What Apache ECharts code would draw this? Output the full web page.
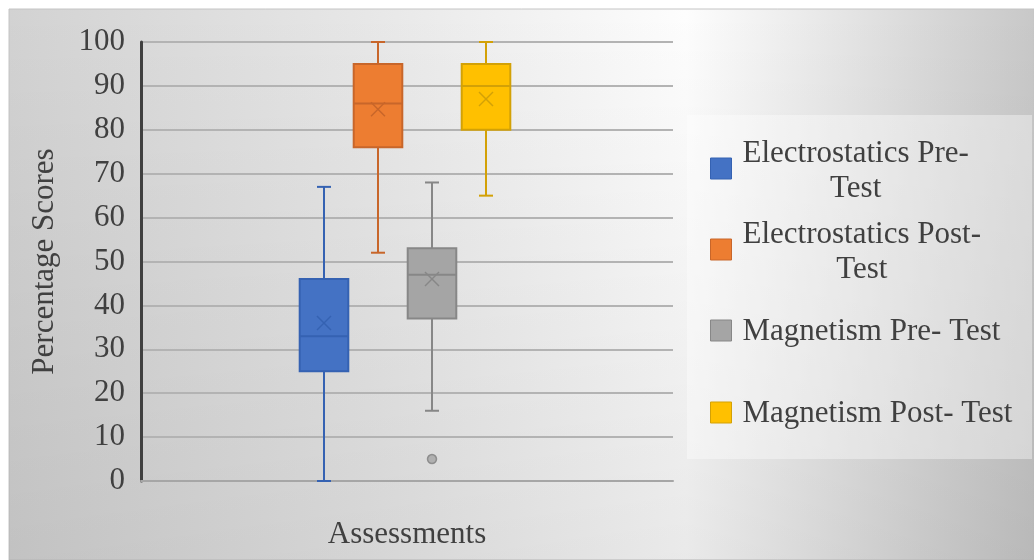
<!DOCTYPE html>
<html>
<head>
<meta charset="utf-8">
<script src="https://cdn.jsdelivr.net/npm/echarts@6/dist/echarts.min.js"></script>
<style>
  html, body { margin: 0; padding: 0; background: #ffffff; }
  #chart { width: 1034px; height: 560px; }
</style>
</head>
<body>
<div id="chart"></div>
<script>
// ---- data ----
var seriesNames = ['Electrostatics Pre-Test', 'Electrostatics Post-Test', 'Magnetism Pre- Test', 'Magnetism Post- Test'];
var legendLines = [['Electrostatics Pre-', 'Test'], ['Electrostatics Post-', 'Test'], ['Magnetism Pre- Test'], ['Magnetism Post- Test']];
var mins    = [0, 52, 16, 65];
var q1s     = [25, 76, 37, 80];
var medians = [33, 86, 47, 90];
var q3s     = [46, 95, 53, 95];
var maxs    = [67, 100, 68, 100];
var means   = [36, 84.7, 46, 87];
var outlierSeries = [2];
var outlierValues = [5];
var yTicks = [0, 10, 20, 30, 40, 50, 60, 70, 80, 90, 100];
var xAxisTitle = 'Assessments';
var yAxisTitle = 'Percentage Scores';

// ---- styles ----
var fills   = ['#4472C4', '#ED7D31', '#A5A5A5', '#FFC000'];
var strokes = ['#3562B2', '#C8662A', '#878787', '#D3A106'];
var FONT = "'Liberation Serif', 'Times New Roman', serif";
var TXT = '#404040';

var chart = echarts.init(document.getElementById('chart'), null, { renderer: 'canvas' });

function renderBox(params, api) {
  var i = api.value(0);
  var pMin = api.coord([i, api.value(1)]);
  var pQ1 = api.coord([i, api.value(2)]);
  var pMed = api.coord([i, api.value(3)]);
  var pQ3 = api.coord([i, api.value(4)]);
  var pMax = api.coord([i, api.value(5)]);
  var pMean = api.coord([i, api.value(6)]);
  var band = api.size([1, 0])[0];
  var bw = band * 0.9;
  var cw = band * 0.26;
  var mk = 7;
  var x = pMed[0];
  var sc = strokes[params.seriesIndex];
  var fc = fills[params.seriesIndex];
  var ls = { stroke: sc, lineWidth: 2, fill: null };
  return {
    type: 'group',
    children: [
      { type: 'line', shape: { x1: x, y1: pQ3[1], x2: x, y2: pMax[1] }, style: ls },
      { type: 'line', shape: { x1: x - cw / 2, y1: pMax[1], x2: x + cw / 2, y2: pMax[1] }, style: ls },
      { type: 'line', shape: { x1: x, y1: pQ1[1], x2: x, y2: pMin[1] }, style: ls },
      { type: 'line', shape: { x1: x - cw / 2, y1: pMin[1], x2: x + cw / 2, y2: pMin[1] }, style: ls },
      { type: 'rect', shape: { x: x - bw / 2, y: pQ3[1], width: bw, height: pQ1[1] - pQ3[1] },
        style: { fill: fc, stroke: sc, lineWidth: 2 } },
      { type: 'line', shape: { x1: x - bw / 2, y1: pMed[1], x2: x + bw / 2, y2: pMed[1] }, style: ls },
      { type: 'line', shape: { x1: x - mk, y1: pMean[1] - mk, x2: x + mk, y2: pMean[1] + mk }, style: { stroke: sc, lineWidth: 1.5 } },
      { type: 'line', shape: { x1: x - mk, y1: pMean[1] + mk, x2: x + mk, y2: pMean[1] - mk }, style: { stroke: sc, lineWidth: 1.5 } }
    ]
  };
}

var series = seriesNames.map(function (name, i) {
  return {
    name: name,
    type: 'custom',
    xAxisIndex: 1,
    yAxisIndex: 1,
    renderItem: renderBox,
    itemStyle: { color: fills[i], borderColor: strokes[i] },
    encode: { x: 0, y: [1, 2, 3, 4, 5, 6] },
    data: [[i, mins[i], q1s[i], medians[i], q3s[i], maxs[i], means[i]]],
    z: 3
  };
});

series.push({
  name: 'Outliers',
  type: 'scatter',
  xAxisIndex: 1,
  yAxisIndex: 1,
  symbol: 'circle',
  symbolSize: 9,
  itemStyle: { color: '#A5A5A5', borderColor: '#7f7f7f', borderWidth: 1.5 },
  data: outlierSeries.map(function (s, k) { return [s, outlierValues[k]]; }),
  z: 4
});

var legendTops = [131, 212, 312, 394];
var legends = seriesNames.map(function (name, i) {
  var lines = legendLines[i];
  var multi = lines.length > 1;
  return {
    show: true,
    left: 710,
    top: legendTops[i],
    padding: 0,
    orient: 'vertical',
    selectedMode: false,
    itemWidth: 21,
    itemHeight: 21,
    data: [{ name: name, icon: 'rect', itemStyle: { color: fills[i], borderColor: strokes[i], borderWidth: 1 } }],
    formatter: function () {
      return lines.map(function (l) { return '{c|' + l + '}'; }).join('\n');
    },
    textStyle: {
      fontFamily: FONT,
      fontSize: 31,
      color: TXT,
      lineHeight: 35,
      padding: multi ? [5, 0, 0, 6] : [2, 0, 0, 6],
      rich: {
        c: { fontFamily: FONT, fontSize: 31, color: TXT, lineHeight: 35, align: 'center' }
      }
    }
  };
});

var option = {
  animation: false,
  backgroundColor: '#ffffff',
  graphic: [
    {
      type: 'rect', z: -20, silent: true,
      shape: { x: 9, y: 9, width: 1025, height: 551 },
      style: {
        fill: {
          type: 'linear', x: 0, y: 0, x2: 1, y2: 0,
          colorStops: [
            { offset: 0, color: '#d2d2d2' },
            { offset: 0.35, color: '#e7e7e7' },
            { offset: 0.66, color: '#fdfdfd' },
            { offset: 1, color: '#c8c8c8' }
          ]
        },
        stroke: '#c4c4c4', lineWidth: 1
      }
    },
    {
      type: 'rect', z: -19, silent: true,
      shape: { x: 9, y: 9, width: 1025, height: 551 },
      style: {
        fill: {
          type: 'linear', x: 0, y: 0, x2: 0, y2: 1,
          colorStops: [
            { offset: 0, color: 'rgba(0,0,0,0)' },
            { offset: 1, color: 'rgba(0,0,0,0.08)' }
          ]
        }
      }
    },
    {
      type: 'rect', z: -18, silent: true,
      shape: { x: 687, y: 115, width: 345, height: 344 },
      style: { fill: 'rgba(255,255,255,0.38)' }
    }
  ],
  legend: legends,
  grid: [
    { left: 141, right: 361, top: 42, bottom: 79, containLabel: false },
    { left: 297, width: 216, top: 42, bottom: 79, containLabel: false }
  ],
  xAxis: [
    {
      type: 'category', gridIndex: 0, data: [''],
      name: xAxisTitle, nameLocation: 'middle', nameGap: 38,
      nameTextStyle: { fontFamily: FONT, fontSize: 31, color: TXT },
      axisLine: { show: true, lineStyle: { color: '#a6a6a6', width: 2 } },
      axisTick: { show: false }, axisLabel: { show: false }, splitLine: { show: false }
    },
    {
      type: 'category', gridIndex: 1, data: seriesNames, show: false
    }
  ],
  yAxis: [
    {
      type: 'value', gridIndex: 0, min: yTicks[0], max: yTicks[yTicks.length - 1], interval: 10,
      name: yAxisTitle, nameLocation: 'middle', nameGap: 81,
      nameTextStyle: { fontFamily: FONT, fontSize: 31, color: TXT },
      axisLine: { show: true, lineStyle: { color: '#404040', width: 3 } },
      axisTick: { show: false },
      axisLabel: { fontFamily: FONT, fontSize: 31, color: TXT, margin: 16 },
      splitLine: { show: true, lineStyle: { color: '#b3b3b3', width: 2 } }
    },
    {
      type: 'value', gridIndex: 1, min: 0, max: 100, show: false
    }
  ],
  series: series
};

chart.setOption(option);
</script>
</body>
</html>
